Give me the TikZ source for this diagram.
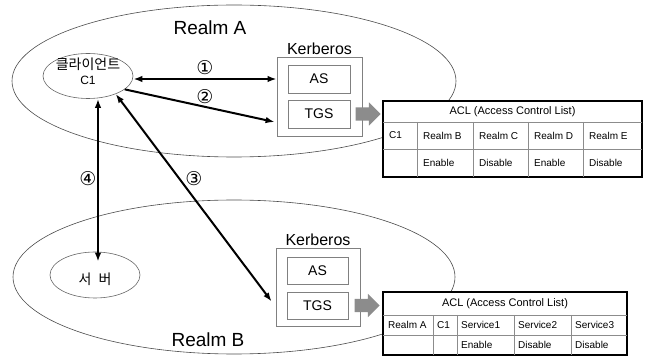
\documentclass[tikz,border=0pt]{standalone}
\usepackage{fontspec}
\setmainfont{Liberation Sans}
\newfontfamily\kofont{Noto Sans CJK KR}
\newfontfamily\numfont{DejaVu Sans}
\usetikzlibrary{positioning,shapes.geometric,shapes.arrows,arrows.meta,calc}

\tikzset{
    realm/.style={ellipse, draw=black!70, line width=0.6pt},
    realmname/.style={font=\fontsize{19}{21}\selectfont},
    host/.style={ellipse, draw=black!60, line width=0.6pt, minimum width=90, minimum height=45},
    kdcbox/.style={draw=black!50, line width=0.8pt, fill=white, minimum width=85, minimum height=79},
    kdcname/.style={inner sep=0.5pt, font=\fontsize{16}{18}\selectfont},
    svcbox/.style={draw=black!50, line width=0.8pt, fill=white, minimum width=62, minimum height=28, font=\fontsize{14}{16}\selectfont},
    fatarrow/.style={single arrow, fill=black!45, minimum height=25, minimum width=23, single arrow head extend=5, inner xsep=0, inner ysep=6.5},
    aclframe/.style={draw, line width=1.8pt, fill=white},
    aclgrid/.style={draw=black!45, line width=0.8pt},
    aclhead/.style={font=\fontsize{11}{13}\selectfont},
    cell/.style={anchor=west, inner sep=0, font=\fontsize{10}{12}\selectfont},
    num/.style={font=\numfont\fontsize{19}{21}\selectfont},
    oneway/.style={line width=2pt, -{Latex[length=9pt,width=6.5pt]}},
    twoway/.style={line width=2pt, {Latex[length=9pt,width=6.5pt]}-{Latex[length=9pt,width=6.5pt]}},
}

\begin{document}
\begin{tikzpicture}[x=1pt,y=-1pt]
    \useasboundingbox (0,0) rectangle (649,358);

    \node[realm, minimum width=444, minimum height=152] (realmA) at (234,81) {};
    \node[realm, minimum width=442, minimum height=154] (realmB) at (234,277) {};
    \node[realmname] (realmAname) at (210,28) {Realm A};
    \node[realmname] (realmBname) at (208,340) {Realm B};

    \node[host] (client) at (88,76) {};
    \node[align=center, inner sep=0] (clientname) at (88,71)
        {{\kofont\fontsize{14}{16}\selectfont 클라이언트}\\[3pt]{\fontsize{12}{14}\selectfont C1}};
    \node[host, minimum height=46] (server) at (95,275) {};
    \node[font=\kofont\fontsize{14}{16}\selectfont] (servername) at (95,279) {서\hspace{7pt}버};

    \node[kdcbox] (kdcA) at (319.5,96.5) {};
    \node[svcbox] (asA) at (319,79) {AS};
    \node[svcbox] (tgsA) at (319,114) {TGS};
    \node[kdcname, above=1pt of kdcA] (kdcAname) {Kerberos};

    \node[kdcbox, minimum width=84, minimum height=78] (kdcB) at (318,287) {};
    \node[svcbox, minimum width=61, minimum height=27] (asB) at (317.5,270.5) {AS};
    \node[svcbox, minimum width=61, minimum height=27] (tgsB) at (317.5,305.5) {TGS};
    \node[kdcname, above=1pt of kdcB] (kdcBname) {Kerberos};

    \node[fatarrow, right=5pt of tgsA] (pushA) {};
    \node[fatarrow, right=6pt of tgsB] (pushB) {};

    \node[aclframe, minimum width=259, minimum height=76] (aclA) at (512.5,139) {};
    \draw[aclgrid] (383,122) -- (642,122) (383,149) -- (642,149);
    \foreach \x in {417,473,528,583}
        \draw[aclgrid] (\x,122) -- (\x,177);
    \node[aclhead] (aclAhead) at (512.5,111.5) {ACL (Access Control List)};
    \foreach \x/\t [count=\i] in {389/C1,423/Realm B,479/Realm C,534/Realm D,589/Realm E}
        \node[cell] (aclAkey\i) at (\x,135.5) {\t};
    \foreach \x/\t [count=\i] in {423/Enable,479/Disable,534/Enable,589/Disable}
        \node[cell] (aclAval\i) at (\x,163) {\t};

    \node[aclframe, minimum width=244, minimum height=63] (aclB) at (505,323.5) {};
    \draw[aclgrid] (383,315) -- (627,315) (383,335) -- (627,335);
    \foreach \x in {433,457,514,571}
        \draw[aclgrid] (\x,315) -- (\x,355);
    \node[aclhead] (aclBhead) at (505,303.5) {ACL (Access Control List)};
    \foreach \x/\t [count=\i] in {388/Realm A,437/C1,461/Service1,518/Service2,575/Service3}
        \node[cell] (aclBkey\i) at (\x,325) {\t};
    \foreach \x/\t [count=\i] in {461/Enable,518/Disable,575/Disable}
        \node[cell] (aclBval\i) at (\x,345) {\t};

    \draw[twoway] (asA -| client.east) -- (asA -| kdcA.west);
    \draw[oneway] (client.-20) -- ($(tgsA -| kdcA.west)+(-2,8)$);
    \draw[twoway] (client.-33) -- ($(tgsB -| kdcB.west)+(-4,-4)$);
    \draw[twoway] ($(client.south)+(10,0)$) -- ($(client.south |- server.north)+(10,10)$);

    \node[num] (n1) at (205,68) {①};
    \node[num] (n2) at (205,97) {②};
    \node[num] (n3) at (194,179) {③};
    \node[num] (n4) at (88,179) {④};
\end{tikzpicture}
\end{document}
